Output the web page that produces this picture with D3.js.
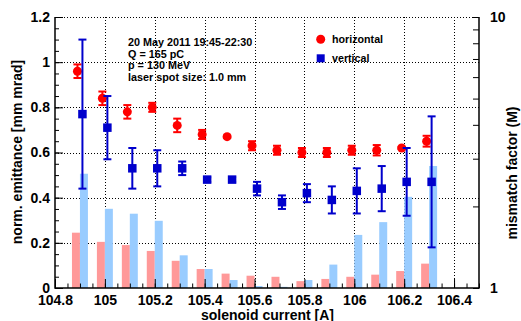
<!DOCTYPE html>
<html>
<head>
<meta charset="utf-8">
<script src="https://cdn.jsdelivr.net/npm/d3@7"></script>
<style>
  body { margin: 0; background: #fff; }
  svg { display: block; font-family: "Liberation Sans", Arial, sans-serif; font-weight: bold; }
</style>
</head>
<body>
<script>
// solenoid current settings [A]
const current = [104.9, 105.0, 105.1, 105.2, 105.3, 105.4, 105.5, 105.6, 105.7, 105.8, 105.9, 106.0, 106.1, 106.2, 106.3];

// normalized emittance [mm mrad] and errors
const emitH = [0.96, 0.84, 0.78, 0.80, 0.72, 0.68, 0.67, 0.63, 0.61, 0.60, 0.60, 0.61, 0.61, 0.62, 0.65];
const errH  = [0.03, 0.03, 0.03, 0.02, 0.03, 0.02, 0.005, 0.02, 0.02, 0.02, 0.02, 0.02, 0.023, 0.005, 0.024];
const emitV = [0.77, 0.71, 0.53, 0.53, 0.53, 0.48, 0.48, 0.44, 0.38, 0.42, 0.39, 0.43, 0.44, 0.47, 0.47];
const errV  = [0.33, 0.14, 0.09, 0.08, 0.03, 0.01, 0.01, 0.03, 0.03, 0.04, 0.06, 0.10, 0.10, 0.15, 0.29];

// mismatch factor M (right log axis)
const mismatchH = [1.60, 1.48, 1.44, 1.37, 1.26, 1.175, 1.13, 1.11, 1.10, 1.06, 1.08, 1.10, 1.12, 1.155, 1.23];
const mismatchV = [2.64, 1.96, 1.88, 1.77, 1.32, 1.175, 1.07, 1.017, 1.01, 1.07, 1.22, 1.57, 1.75, 2.17, 2.82];

// ticks
const xTicks = [104.8, 105, 105.2, 105.4, 105.6, 105.8, 106, 106.2, 106.4];
const xTickLabels = ["104.8", "105", "105.2", "105.4", "105.6", "105.8", "106", "106.2", "106.4"];
const yTicks = [0, 0.2, 0.4, 0.6, 0.8, 1.0, 1.2];
const yTickLabels = ["0", "0.2", "0.4", "0.6", "0.8", "1", "1.2"];
const mTicks = [1, 2, 3, 4, 5, 6, 7, 8, 9, 10];

const infoLines = ["20 May 2011 19:45-22:30", "Q = 165 pC", "p = 130 MeV", "laser spot size: 1.0 mm"];

let width = 521, height = 321;
let plotL = 55, plotR = 479, plotT = 17, plotB = 288;

let x = d3.scaleLinear().domain([104.8, 106.5]).range([plotL, plotR]);
let y = d3.scaleLinear().domain([0, 1.2]).range([plotB, plotT]);
let yM = d3.scaleLog().domain([1, 10]).range([plotB, plotT]);

let svg = d3.select("body").append("svg")
    .attr("width", width)
    .attr("height", height);

svg.append("rect").attr("width", width).attr("height", height).attr("fill", "#fff");

// grid
let grid = svg.append("g")
    .attr("stroke", "#000")
    .attr("stroke-width", 1)
    .attr("stroke-dasharray", "1,2")
    .attr("shape-rendering", "crispEdges");

grid.selectAll("line.gx")
    .data(xTicks.filter(d => d > 104.8))
    .join("line")
    .attr("class", "gx")
    .attr("x1", d => Math.round(x(d)) + 0.5).attr("x2", d => Math.round(x(d)) + 0.5)
    .attr("y1", plotT).attr("y2", plotB);

grid.selectAll("line.gy")
    .data(yTicks.filter(d => d > 0))
    .join("line")
    .attr("class", "gy")
    .attr("x1", plotL).attr("x2", plotR)
    .attr("y1", d => Math.round(y(d)) + 0.5).attr("y2", d => Math.round(y(d)) + 0.5);

// mismatch bars
let barW = 0.032;
svg.append("g").selectAll("rect")
    .data(current)
    .join("rect")
    .attr("x", d => x(d - barW))
    .attr("width", d => x(d) - x(d - barW))
    .attr("y", (d, i) => yM(mismatchH[i]))
    .attr("height", (d, i) => plotB - yM(mismatchH[i]))
    .attr("fill", "#ff9999");

svg.append("g").selectAll("rect")
    .data(current)
    .join("rect")
    .attr("x", d => x(d))
    .attr("width", d => x(d + barW) - x(d))
    .attr("y", (d, i) => yM(mismatchV[i]))
    .attr("height", (d, i) => plotB - yM(mismatchV[i]))
    .attr("fill", "#99ccff");

// axes
let tickFont = g => g.attr("font-family", null).attr("font-size", null)
    .call(g => g.select(".domain").remove())
    .call(g => g.selectAll("text").attr("font-size", "14px").attr("fill", "#000"))
    .call(g => g.selectAll("text").filter(function() { return this.textContent === ""; }).remove())
    .call(g => g.selectAll("line").attr("stroke", "#000"));

svg.append("g")
    .attr("transform", `translate(0,${plotB})`)
    .call(d3.axisBottom(x).tickValues(xTicks).tickSize(-9).tickPadding(7)
        .tickFormat((d, i) => xTickLabels[i]))
    .call(tickFont);

svg.append("g")
    .attr("transform", `translate(0,${plotB})`)
    .call(d3.axisBottom(x).tickValues(d3.range(104.8, 106.5, 0.05)).tickSize(-4.5).tickFormat(""))
    .call(tickFont);

svg.append("g")
    .attr("transform", `translate(${plotL},0)`)
    .call(d3.axisLeft(y).tickValues(yTicks).tickSize(-8).tickPadding(5)
        .tickFormat((d, i) => yTickLabels[i]))
    .call(tickFont);

svg.append("g")
    .attr("transform", `translate(${plotL},0)`)
    .call(d3.axisLeft(y).tickValues(d3.range(0, 1.2, 0.05)).tickSize(-4).tickFormat(""))
    .call(tickFont);

svg.append("g")
    .attr("transform", `translate(${plotR},0)`)
    .call(d3.axisRight(yM).tickValues(mTicks).tickSize(-6).tickPadding(11)
        .tickFormat(d => (d === 1 || d === 10) ? String(d) : ""))
    .call(tickFont);

// frame
svg.append("path")
    .attr("d", `M${plotL},${plotT}V${plotB}H${plotR}V${plotT}`)
    .attr("fill", "none")
    .attr("stroke", "#000")
    .attr("stroke-width", 1.5);

// error bars + markers
function drawSeries(vals, errs, dx, color, shape) {
    let g = svg.append("g");
    let pts = current.map((c, i) => ({ c: c + dx, v: vals[i], e: errs[i] }));
    g.selectAll("line.eb")
        .data(pts)
        .join("line")
        .attr("class", "eb")
        .attr("x1", d => x(d.c)).attr("x2", d => x(d.c))
        .attr("y1", d => y(d.v - d.e)).attr("y2", d => y(d.v + d.e))
        .attr("stroke", color).attr("stroke-width", 2);
    [-1, 1].forEach(s => {
        let cls = "cap" + (s > 0 ? "u" : "d");
        g.selectAll("line." + cls)
            .data(pts)
            .join("line")
            .attr("class", cls)
            .attr("x1", d => x(d.c) - 4).attr("x2", d => x(d.c) + 4)
            .attr("y1", d => y(d.v + s * d.e)).attr("y2", d => y(d.v + s * d.e))
            .attr("stroke", color).attr("stroke-width", 2);
    });
    if (shape === "circle") {
        g.selectAll("circle")
            .data(pts)
            .join("circle")
            .attr("cx", d => x(d.c)).attr("cy", d => y(d.v))
            .attr("r", 4.5).attr("fill", color);
    } else {
        g.selectAll("rect")
            .data(pts)
            .join("rect")
            .attr("x", d => x(d.c) - 4.25).attr("y", d => y(d.v) - 4.25)
            .attr("width", 8.5).attr("height", 8.5).attr("fill", color);
    }
}
drawSeries(emitH, errH, -0.01, "#ff0000", "circle");
drawSeries(emitV, errV, 0.01, "#0000cc", "square");

// info text
svg.append("g")
    .attr("font-size", "10.8px")
    .selectAll("text")
    .data(infoLines)
    .join("text")
    .attr("x", 128)
    .attr("y", (d, i) => 46 + i * 11.6)
    .text(d => d);

// legend
let legend = svg.append("g").attr("font-size", "10.7px");
legend.append("circle").attr("cx", 320.7).attr("cy", 39.3).attr("r", 4.5).attr("fill", "#ff0000");
legend.append("text").attr("x", 332).attr("y", 43).text("horizontal");
legend.append("rect").attr("x", 316.7).attr("y", 54.3).attr("width", 8).attr("height", 8).attr("fill", "#0000cc");
legend.append("text").attr("x", 332).attr("y", 62).text("vertical");

// axis titles
svg.append("text")
    .attr("x", 334).attr("y", 319.5)
    .attr("text-anchor", "end")
    .attr("font-size", "14px")
    .text("solenoid current [A]");

svg.append("text")
    .attr("transform", "translate(22,152) rotate(-90)")
    .attr("text-anchor", "middle")
    .attr("font-size", "14px")
    .text("norm. emittance [mm mrad]");

svg.append("text")
    .attr("transform", "translate(517,173) rotate(-90)")
    .attr("text-anchor", "middle")
    .attr("font-size", "14px")
    .text("mismatch factor (M)");
</script>
</body>
</html>
